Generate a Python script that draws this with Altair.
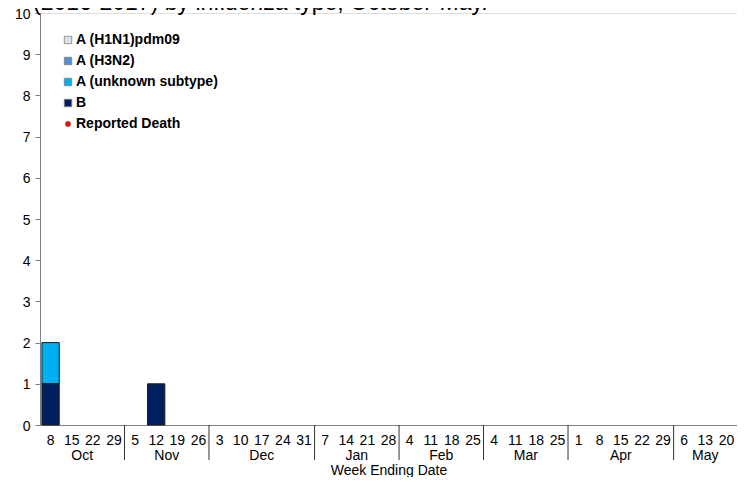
import altair as alt
import pandas as pd

# ---------------- data ----------------
months = ["Oct", "Nov", "Dec", "Jan", "Feb", "Mar", "Apr", "May"]
month_days = [
    [8, 15, 22, 29],
    [5, 12, 19, 26],
    [3, 10, 17, 24, 31],
    [7, 14, 21, 28],
    [4, 11, 18, 25],
    [4, 11, 18, 25],
    [1, 8, 15, 22, 29],
    [6, 13, 20],
]
series = ["A (H1N1)pdm09", "A (H3N2)", "A (unknown subtype)", "B"]
h1n1 = [0, 0, 0, 0, 0, 0, 0, 0, 0, 0, 0, 0, 0, 0, 0, 0, 0, 0, 0, 0, 0, 0, 0, 0, 0, 0, 0, 0, 0, 0, 0, 0, 0]
h3n2 = [0, 0, 0, 0, 0, 0, 0, 0, 0, 0, 0, 0, 0, 0, 0, 0, 0, 0, 0, 0, 0, 0, 0, 0, 0, 0, 0, 0, 0, 0, 0, 0, 0]
a_unknown = [1, 0, 0, 0, 0, 0, 0, 0, 0, 0, 0, 0, 0, 0, 0, 0, 0, 0, 0, 0, 0, 0, 0, 0, 0, 0, 0, 0, 0, 0, 0, 0, 0]
b_type = [1, 0, 0, 0, 0, 1, 0, 0, 0, 0, 0, 0, 0, 0, 0, 0, 0, 0, 0, 0, 0, 0, 0, 0, 0, 0, 0, 0, 0, 0, 0, 0, 0]
colors = ["#dbe5f1", "#558ed5", "#00b0f0", "#002060"]
legend_names = series + ["Reported Death"]
title_text = "(2016-2017) by influenza type, October-May."

# ---------------- tables ----------------
weeks = [f"{m} {d}" for m, ds in zip(months, month_days) for d in ds]
n_weeks = len(weeks)
values_by_series = [h1n1, h3n2, a_unknown, b_type]
rows = []
for si, (name, vals) in enumerate(zip(series, values_by_series)):
    for w, v in zip(weeks, vals):
        rows.append({"week": w, "series": name, "value": v, "order": len(series) - 1 - si})
bars_df = pd.DataFrame(rows)

bounds = []
start = 0
month_rows = []
for m, ds in zip(months, month_days):
    end = start + len(ds)
    month_rows.append({"month": m, "mid": (start + end) / 2})
    bounds.append(end)
    start = end
months_df = pd.DataFrame(month_rows)
sep_df = pd.DataFrame({"b": bounds[:-1]})

legend_df = pd.DataFrame({
    "name": legend_names,
    "color": colors + ["#ff0000"],
    "shape": ["square"] * 4 + ["circle"],
    "size": [55] * 4 + [30],
})

W, H = 697, 412
FONT = "Liberation Sans"

xq = alt.Scale(domain=[0, n_weeks], range=[0, W])

bars = alt.Chart(bars_df).transform_filter("datum.value > 0").mark_bar(
    stroke="#1a1a1a", strokeWidth=1
).encode(
    x=alt.X("week:N", sort=weeks,
            scale=alt.Scale(domain=weeks, paddingInner=0.18, paddingOuter=0.09),
            axis=alt.Axis(labelExpr="split(datum.value, ' ')[1]", labelAngle=0,
                          ticks=False, domainColor="#808080", labelFontSize=14,
                          labelColor="#000", labelPadding=8, labelFont=FONT,
                          title="Week Ending Date", titleFontSize=14,
                          titleFontWeight="normal", titleFont=FONT, titleColor="#000",
                          titlePadding=16)),
    y=alt.Y("value:Q", stack="zero", scale=alt.Scale(domain=[0, 10]),
            axis=alt.Axis(values=list(range(11)), tickSize=5, grid=False,
                          domainColor="#808080", tickColor="#808080",
                          labelFontSize=14, labelColor="#000", labelFont=FONT,
                          labelPadding=5, labelOffset=1, title=None)),
    color=alt.Color("series:N", scale=alt.Scale(domain=series, range=colors), legend=None),
    order=alt.Order("order:Q"),
)

month_text = alt.Chart(months_df).mark_text(
    fontSize=14, font=FONT, color="#000", baseline="middle", align="center"
).encode(
    x=alt.X("mid:Q", scale=xq, axis=None),
    y=alt.value(H + 31),
    text="month:N",
)

seps = alt.Chart(sep_df).mark_rule(color="#333", strokeWidth=1).encode(
    x=alt.X("b:Q", scale=xq, axis=None),
    y=alt.value(H),
    y2=alt.value(H + 35),
)

ly = alt.Scale(type="point", domain=legend_names, range=[27, 111], padding=0)
leg_sym = alt.Chart(legend_df).mark_point(filled=True, stroke="#7f7f7f",
                                          strokeWidth=0.8, opacity=1).encode(
    x=alt.value(28),
    y=alt.Y("name:N", scale=ly, axis=None),
    shape=alt.Shape("shape:N", scale=None),
    color=alt.Color("color:N", scale=None),
    size=alt.Size("size:Q", scale=None),
)
leg_txt = alt.Chart(legend_df).mark_text(
    align="left", baseline="middle", fontSize=14, fontWeight="bold", font=FONT, color="#000"
).encode(
    x=alt.value(36),
    y=alt.Y("name:N", scale=ly, axis=None),
    text="name:N",
)

title = alt.Chart(pd.DataFrame({"t": [title_text]})).mark_text(
    align="left", baseline="alphabetic", fontSize=23, font=FONT, color="#000"
).encode(
    x=alt.value(-7),
    y=alt.value(-3),
    text="t:N",
)

chart = alt.layer(bars, seps, month_text, leg_sym, leg_txt, title).resolve_scale(
    x="independent", y="independent", color="independent", shape="independent",
    size="independent"
).properties(
    width=W, height=H,
    autosize=alt.AutoSizeParams(type="none"),
    padding={"left": 32, "top": 5, "right": 0, "bottom": 52},
).configure_view(
    stroke="#595959", strokeWidth=1
).configure(background="white")

chart.save("out.html", embed_options={"renderer": "svg", "actions": False})
